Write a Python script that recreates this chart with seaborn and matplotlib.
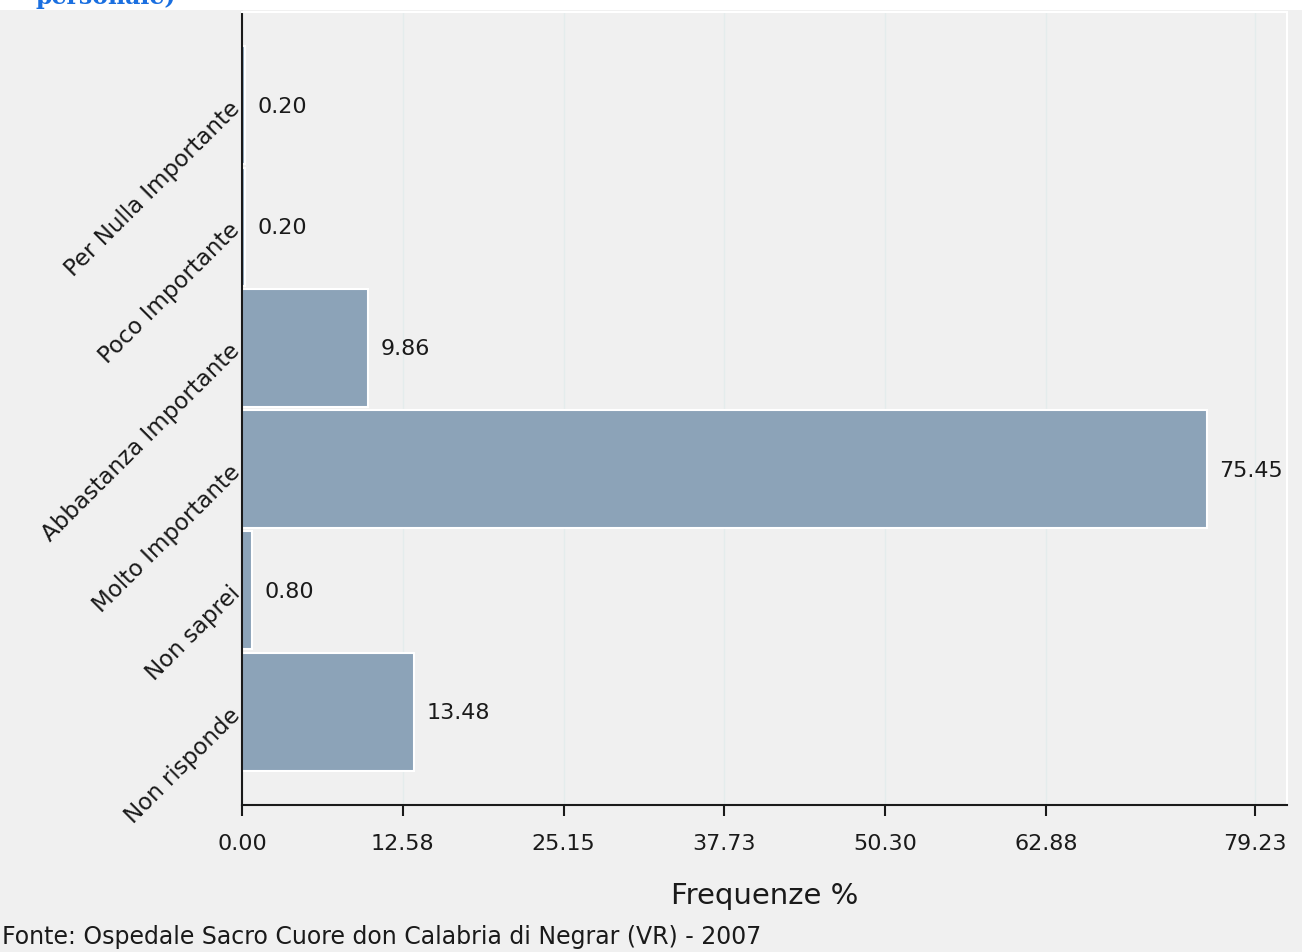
import matplotlib
matplotlib.use("Agg")
import matplotlib.pyplot as plt
import seaborn as sns
import pandas as pd
from matplotlib.patches import Rectangle

categories = ["Per Nulla Importante", "Poco Importante", "Abbastanza Importante",
              "Molto Importante", "Non saprei", "Non risponde"]
values = [0.20, 0.20, 9.86, 75.45, 0.80, 13.48]
value_labels = ["0.20", "0.20", "9.86", "75.45", "0.80", "13.48"]
xticks = [0.00, 12.58, 25.15, 37.73, 50.30, 62.88, 79.23]
xtick_labels = ["0.00", "12.58", "25.15", "37.73", "50.30", "62.88", "79.23"]

df = pd.DataFrame({"cat": categories, "val": values})

sns.set_style("white")
plt.rcParams["font.family"] = ["DejaVu Sans"]

W, H = 1302, 952
fig = plt.figure(figsize=(W / 100, H / 100), dpi=100, facecolor="#f0f0f0")
ax = fig.add_axes([242 / W, 1 - 805 / H, (1287 - 242) / W, (805 - 12) / H])
ax.set_facecolor("#f0f0f0")

sns.barplot(data=df, x="val", y="cat", order=categories, color="#8ca3b8",
            saturation=1, width=0.975, edgecolor="white", linewidth=1.5, ax=ax)

ax.set_xlim(0, 81.73)
ax.set_ylim(5.77, -0.77)

for i, (v, lab) in enumerate(zip(values, value_labels)):
    ax.annotate(lab, xy=(v, i), xytext=(9, -1), textcoords="offset points",
                ha="left", va="center", fontsize=16, color="#1a1a1a")

ax.set_xticks(xticks)
ax.set_xticklabels(xtick_labels, fontsize=16, color="#1a1a1a")
ax.tick_params(axis="x", bottom=True, direction="out", length=8, width=1.5,
               color="#1a1a1a", pad=13)
ax.tick_params(axis="y", left=False, length=0, pad=4)
ax.set_yticks(range(len(categories)))
ax.set_yticklabels(categories, fontsize=16.5, rotation=45, ha="right",
                   va="center", rotation_mode="anchor", color="#1a1a1a")
ax.xaxis.grid(True, color="#e4ecec", linewidth=1)
ax.set_axisbelow(True)

for s in ["top", "right"]:
    ax.spines[s].set_color("white")
    ax.spines[s].set_linewidth(1.5)
ax.spines["left"].set_color("#1a1a1a")
ax.spines["bottom"].set_color("#1a1a1a")
ax.spines["left"].set_linewidth(1.5)
ax.spines["bottom"].set_linewidth(1.5)

ax.set_ylabel("")
ax.set_xlabel("Frequenze %", fontsize=21, color="#1a1a1a", labelpad=20)

# white strip at top and cut-off title (cut off in the reference as well)
fig.patches.append(Rectangle((0, 1 - 10 / H), 1, 10 / H, transform=fig.transFigure,
                             facecolor="white", edgecolor="none", zorder=0))
fig.text(36 / W, 1 - 4 / H, "personale)", fontsize=17, fontweight="bold",
         family="DejaVu Serif", color="#1a6fe0", ha="left", va="baseline")
fig.text(2 / W, 1 - 937 / H, "Fonte: Ospedale Sacro Cuore don Calabria di Negrar (VR) - 2007",
         fontsize=17, color="#1a1a1a", ha="left", va="center")

fig.savefig("out.png", dpi=100, facecolor=fig.get_facecolor())
